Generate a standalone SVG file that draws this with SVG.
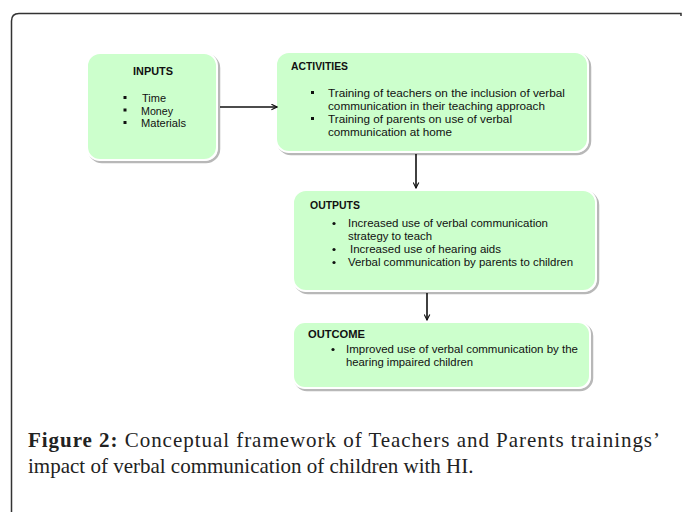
<svg xmlns="http://www.w3.org/2000/svg" width="683" height="512" viewBox="0 0 683 512">
<defs>
<marker id="ah" viewBox="0 0 10 10" refX="9" refY="5" markerWidth="7" markerHeight="7" markerUnits="userSpaceOnUse" orient="auto">
<path d="M1,1 L9,5 L1,9" fill="none" stroke="#111" stroke-width="1.6"/>
</marker>
</defs>
<style>
.box{fill:#ccffcc;stroke:#ffffff;stroke-width:2}
.shadow{fill:none;stroke:#b8b8b8;stroke-width:2.5}
.t{font-family:"Liberation Sans",Arial,sans-serif;font-size:11px;fill:#111}
.tb{font-family:"Liberation Sans",Arial,sans-serif;font-size:11px;font-weight:bold;fill:#111}
.edge{stroke:#111;stroke-width:1.6;fill:none;marker-end:url(#ah)}
.cap{font-family:"Liberation Serif","Times New Roman",serif;font-size:21px;fill:#222}
</style>
<rect width="683" height="512" fill="#fff"/>
<path d="M11.5,512 V21 Q11.5,13.5 19,13.5 H681 V16" fill="none" stroke="#333" stroke-width="1.5"/>

<g id="inputs">
<rect class="shadow" x="89" y="55" width="130" height="107" rx="13"/>
<rect class="box" x="87" y="53" width="130" height="107" rx="13"/>
<text class="tb" x="133" y="75" textLength="40" lengthAdjust="spacingAndGlyphs">INPUTS</text>
<rect x="123.5" y="96" width="3" height="3" fill="#111"/>
<rect x="123.5" y="108.5" width="3" height="3" fill="#111"/>
<rect x="123.5" y="121" width="3" height="3" fill="#111"/>
<text class="t" x="142" y="102" textLength="24" lengthAdjust="spacingAndGlyphs">Time</text>
<text class="t" x="141" y="114.5" textLength="32" lengthAdjust="spacingAndGlyphs">Money</text>
<text class="t" x="141" y="127" textLength="45" lengthAdjust="spacingAndGlyphs">Materials</text>
</g>

<g id="activities">
<rect class="shadow" x="278" y="54" width="312" height="100" rx="13"/>
<rect class="box" x="276" y="52" width="312" height="100" rx="13"/>
<text class="tb" x="291" y="70" textLength="57" lengthAdjust="spacingAndGlyphs">ACTIVITIES</text>
<rect x="311" y="91" width="3" height="3" fill="#111"/>
<rect x="311" y="117" width="3" height="3" fill="#111"/>
<text class="t" x="328" y="97" textLength="237" lengthAdjust="spacingAndGlyphs">Training of teachers on the inclusion of verbal</text>
<text class="t" x="328" y="110" textLength="217" lengthAdjust="spacingAndGlyphs">communication  in their teaching approach</text>
<text class="t" x="328" y="123" textLength="184" lengthAdjust="spacingAndGlyphs">Training of parents on use of verbal</text>
<text class="t" x="328" y="135.5" textLength="124" lengthAdjust="spacingAndGlyphs">communication  at home</text>
</g>

<g id="outputs">
<rect class="shadow" x="295" y="192" width="303" height="101" rx="13"/>
<rect class="box" x="293" y="190" width="303" height="101" rx="13"/>
<text class="tb" x="310" y="209" textLength="50" lengthAdjust="spacingAndGlyphs">OUTPUTS</text>
<circle cx="334" cy="223.5" r="1.6" fill="#111"/>
<circle cx="334" cy="249.5" r="1.6" fill="#111"/>
<circle cx="334" cy="262.5" r="1.6" fill="#111"/>
<text class="t" x="348" y="227" textLength="200" lengthAdjust="spacingAndGlyphs">Increased use of verbal communication</text>
<text class="t" x="348" y="240" textLength="84" lengthAdjust="spacingAndGlyphs">strategy to teach</text>
<text class="t" x="350" y="253" textLength="151" lengthAdjust="spacingAndGlyphs">Increased use of hearing aids</text>
<text class="t" x="348" y="266" textLength="225" lengthAdjust="spacingAndGlyphs">Verbal communication by parents to children</text>
</g>

<g id="outcome">
<rect class="shadow" x="295" y="324" width="297" height="66" rx="12"/>
<rect class="box" x="293" y="322" width="297" height="66" rx="12"/>
<text class="tb" x="308" y="338" textLength="57" lengthAdjust="spacingAndGlyphs">OUTCOME</text>
<circle cx="333" cy="349.5" r="1.6" fill="#111"/>
<text class="t" x="346" y="353" textLength="232" lengthAdjust="spacingAndGlyphs">Improved use of verbal communication by the</text>
<text class="t" x="346" y="366" textLength="127" lengthAdjust="spacingAndGlyphs">hearing  impaired children</text>
</g>

<g id="connectors">
<line class="edge" x1="220" y1="107" x2="277" y2="107"/>
<line class="edge" x1="416" y1="154" x2="416" y2="188"/>
<line class="edge" x1="427" y1="293" x2="427" y2="320"/>
</g>

<text class="cap" x="28" y="447" textLength="632" lengthAdjust="spacing"><tspan font-weight="bold">Figure 2:</tspan> Conceptual framework of Teachers and Parents trainings’</text>
<text class="cap" x="28" y="473">impact of verbal communication of children with HI.</text>
</svg>
